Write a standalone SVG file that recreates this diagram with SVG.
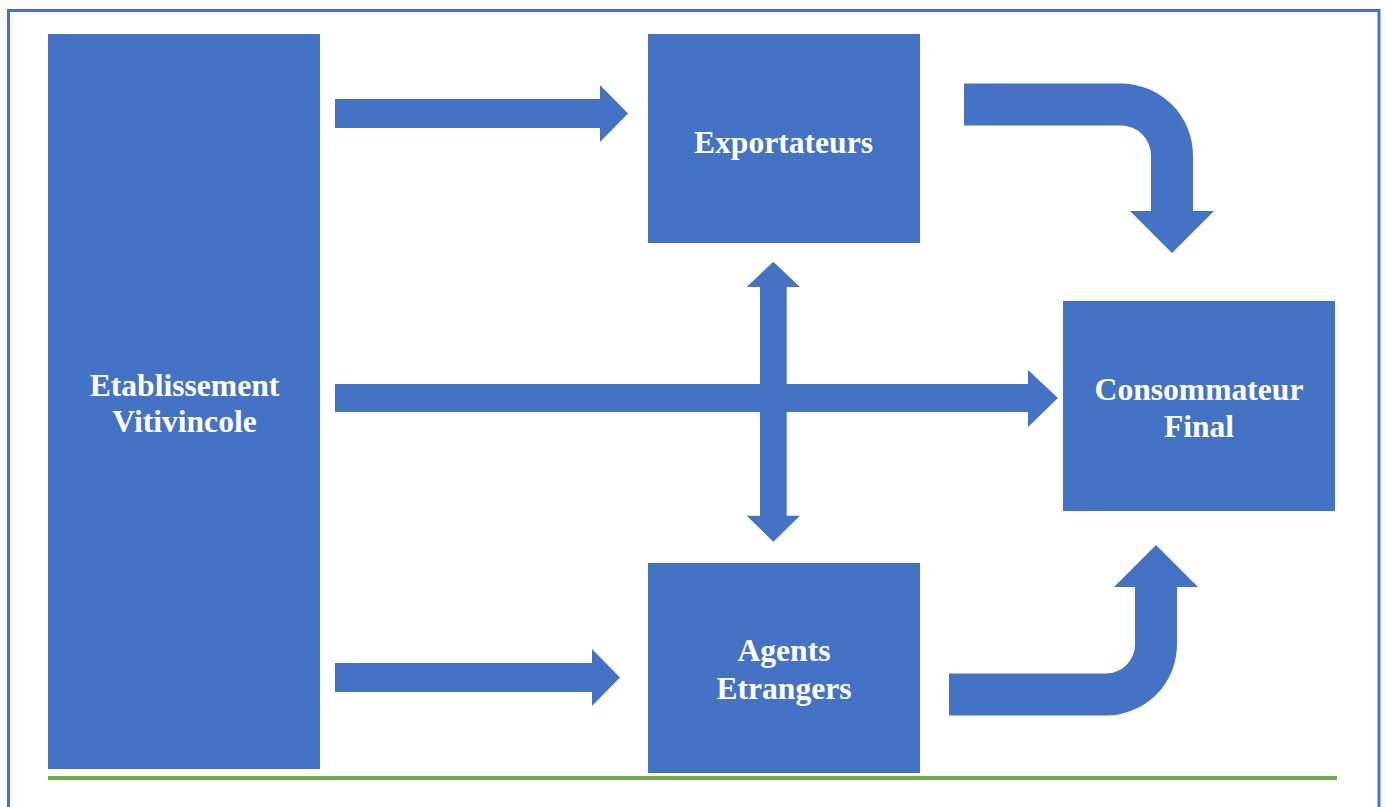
<svg xmlns="http://www.w3.org/2000/svg" width="1385" height="807" viewBox="0 0 1385 807">
<style>
.box{fill:#4472C4}
.arr{fill:#4472C4}
.lbl{fill:#FFFFFF;font-family:"Liberation Serif","Times New Roman",serif;font-weight:bold;font-size:31.6px;text-anchor:middle}
</style>
<rect x="0" y="0" width="1385" height="807" fill="#FFFFFF"/>
<path d="M8.5,820 V10.5 H1379 V820" fill="none" stroke="#4472C4" stroke-width="3"/>
<line x1="48" y1="778" x2="1337" y2="778" stroke="#70AD47" stroke-width="4"/>
<g id="connectors">
<path class="arr" d="M335,99 H600 V85 L628,113.5 L600,142 V128 H335 Z"/>
<path class="arr" d="M335,384 H1028 V370 L1058,398 L1028,427 V412 H335 Z"/>
<path class="arr" d="M335,663 H592 V649 L620,677.5 L592,706 V692 H335 Z"/>
<path class="arr" d="M760,287 H746.7 L773.3,261.7 L800,287 H786.7 V515.7 H800 L773.3,541.7 L746.7,515.7 H760 Z"/>
<path class="arr" d="M964,83.5 H1121 A72,72 0 0 1 1193,155.5 V211 H1214 L1172,253 L1130,211 H1151 V155.5 A30,30 0 0 0 1121,125.5 H964 Z"/>
<path class="arr" d="M949,673.5 H1106 A29,29 0 0 0 1135,644.5 V587 H1114 L1156,545 L1198,587 H1177 V644.5 A71,71 0 0 1 1106,715.5 H949 Z"/>
</g>
<g id="etablissement">
<rect class="box" x="48" y="34" width="272" height="735"/>
<text class="lbl" x="184.5" y="396">Etablissement</text>
<text class="lbl" x="184.5" y="432">Vitivincole</text>
</g>
<g id="exportateurs">
<rect class="box" x="648" y="34" width="272" height="209"/>
<text class="lbl" x="783.5" y="153">Exportateurs</text>
</g>
<g id="agents">
<rect class="box" x="648" y="563" width="272" height="210"/>
<text class="lbl" x="784" y="661">Agents</text>
<text class="lbl" x="784" y="698.5">Etrangers</text>
</g>
<g id="consommateur">
<rect class="box" x="1063" y="301" width="272" height="210"/>
<text class="lbl" x="1199" y="400">Consommateur</text>
<text class="lbl" x="1199" y="437">Final</text>
</g>
</svg>
